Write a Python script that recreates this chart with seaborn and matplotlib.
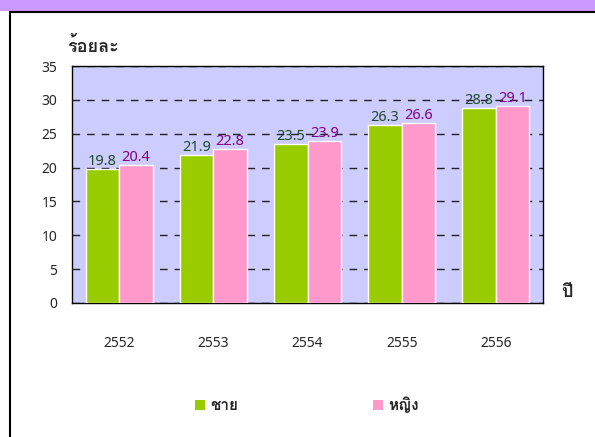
import matplotlib
matplotlib.use("Agg")
import matplotlib.pyplot as plt
from matplotlib.patches import Patch, Rectangle
from matplotlib.lines import Line2D
import numpy as np
import pandas as pd
import seaborn as sns

years = ["2552", "2553", "2554", "2555", "2556"]
male = [19.8, 21.9, 23.5, 26.3, 28.8]
female = [20.4, 22.8, 23.9, 26.6, 29.1]
series = ["ชาย", "หญิง"]
colors = ["#99CC00", "#FF99CC"]
label_colors = ["#1E4A2A", "#800080"]

sns.set_style("white")
plt.rcParams["font.family"] = ["Noto Sans", "Loma", "DejaVu Sans"]
thai = ["Loma", "DejaVu Sans"]

df = pd.DataFrame({
    "year": years * 2,
    "value": male + female,
    "sex": [series[0]] * len(years) + [series[1]] * len(years),
})

W, H = 595, 437
fig = plt.figure(figsize=(W / 100, H / 100), dpi=100)
ax = fig.add_axes([72 / W, 1 - 303 / H, (543 - 72) / W, (303 - 66) / H])
ax.set_facecolor("#CCCCFF")

sns.barplot(data=df, x="year", y="value", hue="sex", palette=colors,
            width=0.71, edgecolor="white", linewidth=1, saturation=1,
            legend=False, ax=ax, zorder=3)

for cont, c in zip(ax.containers, label_colors):
    ax.bar_label(cont, fmt="%.1f", padding=0, color=c, fontsize=10.5, zorder=1)

ax.set_ylim(0, 35)
ax.set_xlim(-0.5, len(years) - 0.5)
ax.set_yticks(np.arange(0, 36, 5))
ax.yaxis.grid(True, color="#222222", linestyle=(0, (5.5, 5)), linewidth=1)
ax.set_axisbelow(True)

ax.set_xticks(np.arange(len(years)))
ax.set_xticklabels(years)
ax.set_xticks(np.arange(-0.5, len(years)), minor=True)
ax.tick_params(axis="x", which="major", length=0, pad=24, labelsize=10)
ax.tick_params(axis="x", which="minor", length=5, width=1, color="black", direction="out")
ax.tick_params(axis="y", length=4.5, width=1, color="black", direction="out", pad=6, labelsize=10)
ax.set_xlabel("")
ax.set_ylabel("")
for s in ax.spines.values():
    s.set_visible(True)
    s.set_color("black")
    s.set_linewidth(1)

fig.text(67 / W, 1 - 46 / H, "ร้อยละ", fontsize=13, fontweight="bold",
         family=thai, ha="left", va="center")
fig.text(567 / W, 1 - 292 / H, "ปี", fontsize=13, fontweight="bold",
         family=thai, ha="center", va="center")

handles = [Patch(facecolor=c, edgecolor="none") for c in colors]
fig.legend(handles, series, loc="center", bbox_to_anchor=(307 / W, 1 - 405 / H),
           ncol=2, frameon=False, handlelength=0.65, handleheight=0.65,
           handletextpad=0.35, columnspacing=8.8,
           prop={"size": 11, "weight": "bold", "family": thai})

# outer frame: purple band and border lines
fig.patches.append(Rectangle((0, 1 - 11 / H), 1, 11 / H, transform=fig.transFigure,
                             facecolor="#CC99FF", edgecolor="none", zorder=0))
fig.lines.append(Line2D([9.5 / W, 1], [1 - 12 / H, 1 - 12 / H], transform=fig.transFigure,
                        color="black", linewidth=1.5))
fig.lines.append(Line2D([9.5 / W, 9.5 / W], [0, 1 - 12 / H], transform=fig.transFigure,
                        color="black", linewidth=1.5))

fig.savefig("out.png", dpi=100)
